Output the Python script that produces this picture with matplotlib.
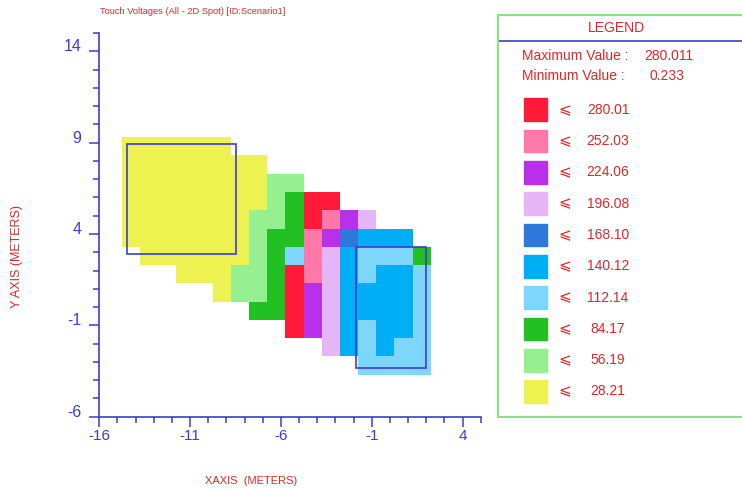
import numpy as np
import matplotlib
matplotlib.use("Agg")
import matplotlib.pyplot as plt
from matplotlib.colors import ListedColormap
from matplotlib.patches import Rectangle

plt.rcParams['font.family'] = ['Liberation Sans', 'DejaVu Sans']
plt.rcParams['axes.unicode_minus'] = False

# legend classes (upper bound of each band) and their colours
levels = [28.21, 56.19, 84.17, 112.14, 140.12, 168.10, 196.08, 224.06, 252.03, 280.01]
colors = ['#eef250', '#94f090', '#22c022', '#7fd6fc', '#00aef6',
          '#2e78dc', '#e4b6f8', '#b830e8', '#ff78aa', '#ff1a3a']
max_value = 280.011
min_value = 0.233

# cell grid, one string per row from top to bottom, digit = class index
x_first = -14.75
y_first = 9.3
cell = 1.0
rows = [
    "000000...........",
    "00000000.........",
    "0000000011.......",
    "000000001299.....",
    "00000001129876...",
    "0000000122875444.",
    ".0000001238643332",
    "...00011298643443",
    ".....011297644443",
    ".......2297644443",
    ".........97643443",
    "...........643433",
    ".............3333",
]

# grid outlines (x0, y0, x1, y1)
grids = [(-14.49, 2.90, -8.48, 8.93), (-1.87, -3.32, 1.97, 3.28)]

blue = '#3c3cd2'
red = '#dc2828'

z = np.full((len(rows), len(rows[0])), np.nan)
for j, r in enumerate(rows):
    for i, ch in enumerate(r):
        if ch != '.':
            z[j, i] = int(ch)
x_edges = x_first + cell * np.arange(z.shape[1] + 1)
y_edges = y_first - cell * np.arange(z.shape[0] + 1)

fig = plt.figure(figsize=(7.42, 4.9), dpi=100)
ax = fig.add_axes([99.3 / 742, 1 - 416.7 / 490, 381.4 / 742, 383.7 / 490])
ax.pcolormesh(x_edges, y_edges, np.ma.masked_invalid(z),
              cmap=ListedColormap(colors), vmin=-0.5, vmax=len(colors) - 0.5)
for g in grids:
    ax.add_patch(Rectangle((g[0], g[1]), g[2] - g[0], g[3] - g[1],
                           fill=False, ec=blue, lw=1.2))

ax.set_xlim(-16, 5)
ax.set_ylim(-6, 15)
ax.set_xticks([-16, -11, -6, -1, 4])
ax.set_yticks([-6, -1, 4, 9, 14])
ax.set_xticks(np.arange(-16, 6), minor=True)
ax.set_yticks(np.arange(-6, 16), minor=True)
for s in ['top', 'right']:
    ax.spines[s].set_visible(False)
for s in ['left', 'bottom']:
    ax.spines[s].set_color(blue)
    ax.spines[s].set_linewidth(1.2)
ax.tick_params(which='both', colors=blue, direction='out', width=1.1)
ax.tick_params(which='major', length=7)
ax.tick_params(which='minor', length=4)
ax.tick_params(axis='x', labelsize=11, pad=2)
ax.tick_params(axis='y', labelsize=11.5, pad=6)
for lab in ax.get_yticklabels():
    lab.set_verticalalignment('baseline')

fig.text(100 / 742, 1 - 12 / 490, 'Touch Voltages (All - 2D Spot) [ID:Scenario1]',
         color=red, fontsize=6.7, va='center', ha='left')
fig.text(251 / 742, 1 - 481 / 490, 'XAXIS  (METERS)', color=red,
         fontsize=8, ha='center', va='center')
fig.text(17 / 742, 1 - 257 / 490, 'Y AXIS (METERS)', color=red,
         fontsize=9, ha='center', va='center', rotation=90)

# legend panel, its right side runs off the picture
lax = fig.add_axes([498 / 742, 1 - 417 / 490, 250 / 742, 402 / 490])
lax.set_xlim(0, 250)
lax.set_ylim(402, 0)
lax.set_xticks([])
lax.set_yticks([])
for s in lax.spines.values():
    s.set_color('#88e088')
    s.set_linewidth(1.5)
lax.axhline(26, color=blue, lw=1.2)
lax.text(118.7, 13, 'LEGEND', color=red, fontsize=10, ha='center', va='center')
lax.text(24, 41, 'Maximum Value :', color=red, fontsize=10, va='center')
lax.text(146, 41, f'{max_value:.3f}', color=red, fontsize=10, va='center')
lax.text(24, 61, 'Minimum Value :', color=red, fontsize=10, va='center')
lax.text(152, 61, f'{min_value:.3f}', color=red, fontsize=10, va='center')
for k, (lv, c) in enumerate(zip(levels[::-1], colors[::-1])):
    yc = 94.7 + 31.3 * k
    lax.add_patch(Rectangle((26.3, yc - 11.3), 22.7, 22.7, color=c))
    lax.text(67, yc, '\u2a7d', color=red, fontsize=11, ha='center', va='center')
    lax.text(110, yc, f'{lv:.2f}', color=red, fontsize=10, ha='center', va='center')

fig.savefig('out.png', dpi=100)
